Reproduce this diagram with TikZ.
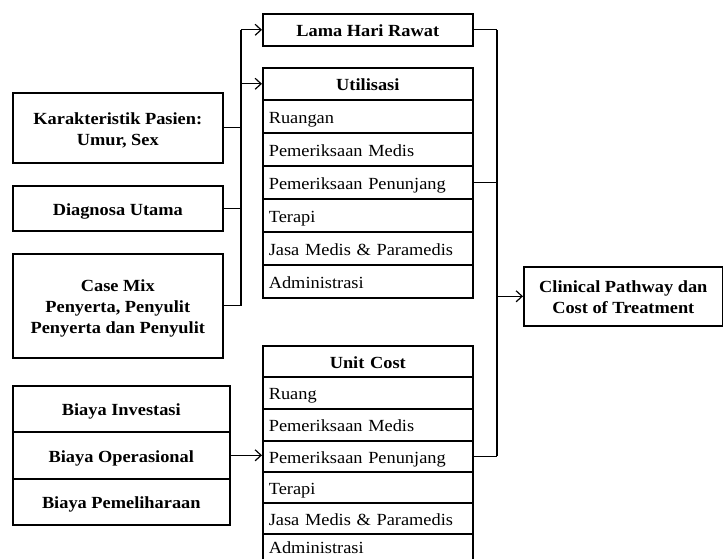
\documentclass[tikz,border=0pt]{standalone}
\usepackage{fontspec}
\setmainfont{Liberation Serif}[FakeStretch=1.08]
\usetikzlibrary{arrows.meta}
\begin{document}
\begin{tikzpicture}[x=1pt,y=-1pt,
  box/.style={draw, line width=1.6pt, inner sep=0pt, align=center, anchor=north west,
    text height=14pt, text depth=0pt,
    font=\fontsize{17}{21}\selectfont\bfseries},
  cell/.style={draw, line width=1.6pt, inner xsep=6pt, inner ysep=0pt, minimum width=210pt,
    text width=198pt, align=left, anchor=north west, text height=14pt, text depth=0pt,
    font=\fontsize{17}{21}\selectfont},
  headcell/.style={cell, align=center, font=\fontsize{17}{21}\selectfont\bfseries},
  conn/.style={line width=1.2pt},
  arr/.style={conn, -{Straight Barb[length=6pt,width=11pt,line width=1.2pt]}}]
\useasboundingbox (0,0) rectangle (723,558);
\begin{scope}
\clip (0,0) rectangle (723,558);
% left boxes
\node[box, minimum width=210pt, minimum height=70pt, text height=35pt] (kp) at (12,92) {Karakteristik Pasien:\\Umur, Sex};
\node[box, minimum width=210pt, minimum height=45pt] (dg) at (12,185) {Diagnosa Utama};
\node[box, minimum width=210pt, minimum height=104pt, text height=56pt] (cm) at (12,253) {Case Mix\\Penyerta, Penyulit\\Penyerta dan Penyulit};
\node[box, minimum width=217pt, minimum height=46pt] (b1) at (12,385) {Biaya Investasi};
\node[box, minimum width=217pt, minimum height=47pt] (b2) at (12,431) {Biaya Operasional};
\node[box, minimum width=217pt, minimum height=46pt] (b3) at (12,478) {Biaya Pemeliharaan};
% middle
\node[box, minimum width=210pt, minimum height=32pt] (lama) at (262,13) {Lama Hari Rawat};
\node[headcell, minimum height=32pt] (uh) at (262,67) {Utilisasi};
\node[cell, minimum height=33pt] (u1) at (262,99) {Ruangan};
\node[cell, minimum height=33pt] (u2) at (262,132) {Pemeriksaan Medis};
\node[cell, minimum height=33pt] (u3) at (262,165) {Pemeriksaan Penunjang};
\node[cell, minimum height=33pt] (u4) at (262,198) {Terapi};
\node[cell, minimum height=33pt] (u5) at (262,231) {Jasa Medis \& Paramedis};
\node[cell, minimum height=33pt] (u6) at (262,264) {Administrasi};
\node[headcell, minimum height=31pt] (ch) at (262,345) {Unit Cost};
\node[cell, minimum height=32pt] (c1) at (262,376) {Ruang};
\node[cell, minimum height=32pt] (c2) at (262,408) {Pemeriksaan Medis};
\node[cell, minimum height=31pt] (c3) at (262,440) {Pemeriksaan Penunjang};
\node[cell, minimum height=31pt] (c4) at (262,471) {Terapi};
\node[cell, minimum height=31pt] (c5) at (262,502) {Jasa Medis \& Paramedis};
\node[cell, minimum height=30pt, text height=10pt] (c6) at (262,533) {Administrasi};
% right
\node[box, minimum width=199pt, minimum height=59pt, text height=35pt] (cp) at (523,266) {Clinical Pathway dan\\Cost of Treatment};
% left connectors
\coordinate (bx) at (241,0);
\draw[conn] (kp.east) -- (kp.east -| bx);
\draw[conn] (dg.east) -- (dg.east -| bx);
\draw[conn] (cm.east) -- (cm.east -| bx);
\draw[conn] (lama.west -| bx) -- (cm.east -| bx);
\draw[arr] (lama.west -| bx) -- (lama.west);
\draw[arr] (uh.west -| bx) -- (uh.west);
% right connectors
\coordinate (rx) at (497,0);
\draw[conn] (lama.east) -- (lama.east -| rx);
\draw[conn] (u3.east) -- (u3.east -| rx);
\draw[conn] (c3.east) -- (c3.east -| rx);
\draw[conn] (lama.east -| rx) -- (c3.east -| rx);
\draw[arr] (cp.west -| rx) -- (cp.west);
% biaya to unit cost
\draw[arr] (b2.east) -- (b2.east -| c3.west);
\end{scope}
\end{tikzpicture}
\end{document}
